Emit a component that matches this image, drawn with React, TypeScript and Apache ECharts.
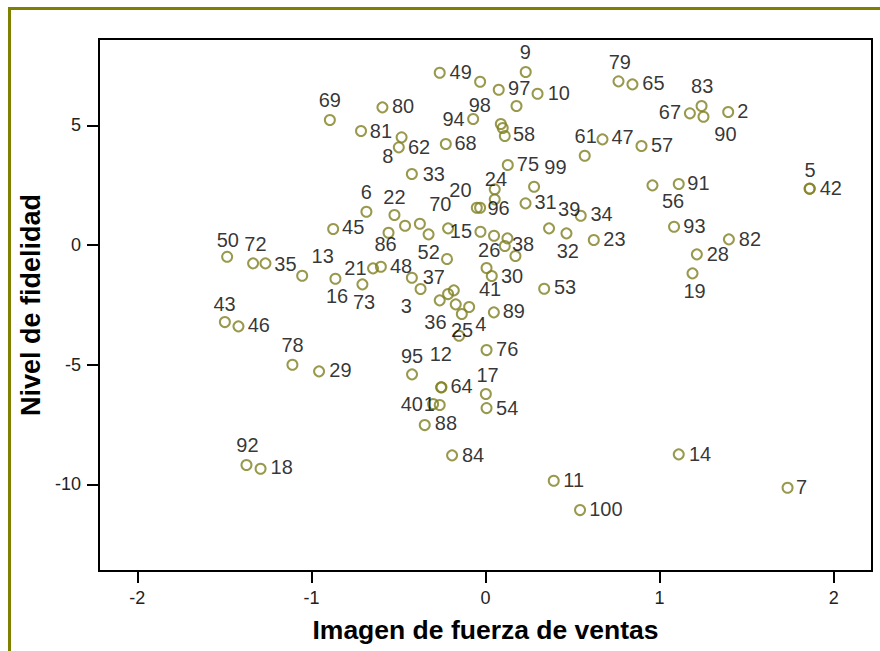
import React, { useEffect, useRef } from 'react';
import * as echarts from 'echarts';

// Case ids shown next to each point ('' = label not drawn)
const pointIds: string[] = [
  '49', '98', '97', '9', '', '94', '', '', '58', '69',
  '80', '81', '8', '62', '68', '33', '75', '99', '24', '',
  '20', '96', '31', '6', '45', '22', '', '', '', '86',
  '70', '15', '26', '', '38', '', '39', '32', '34', '23',
  '10', '79', '65', '83', '67', '90', '2', '61', '47', '57',
  '56', '91', '5', '42', '93', '82', '28', '19', '53', '50',
  '72', '35', '13', '16', '73', '21', '48', '52', '37', '3',
  '36', '', '', '', '25', '4', '', '41', '30', '89',
  '76', '43', '46', '78', '29', '95', '64', '12', '40', '1',
  '17', '54', '88', '84', '11', '100', '14', '7', '92', '18',
];

// Imagen de fuerza de ventas
const xValues: number[] = [
  -0.263, -0.031, 0.076, 0.231, 0.178, -0.071, 0.088, 0.099, 0.111, -0.894,
  -0.592, -0.715, -0.482, -0.498, -0.228, -0.423, 0.128, 0.279, 0.053, 0.053,
  -0.050, -0.031, 0.230, -0.684, -0.875, -0.523, -0.462, -0.377, -0.327, -0.557,
  -0.215, -0.029, 0.049, 0.126, 0.111, 0.172, 0.365, 0.465, 0.547, 0.622,
  0.299, 0.764, 0.844, 1.241, 1.174, 1.252, 1.394, 0.570, 0.672, 0.896,
  0.959, 1.110, 1.861, 1.863, 1.083, 1.398, 1.214, 1.189, 0.337, -1.484,
  -1.335, -1.264, -1.053, -0.862, -0.707, -0.646, -0.601, -0.221, -0.423, -0.373,
  -0.263, -0.215, -0.182, -0.171, -0.136, -0.094, -0.152, 0.006, 0.036, 0.048,
  0.006, -1.497, -1.419, -1.109, -0.956, -0.422, -0.255, -0.253, -0.301, -0.263,
  0.002, 0.006, -0.349, -0.192, 0.392, 0.543, 1.110, 1.735, -1.373, -1.292,
];

// Nivel de fidelidad
const yValues: number[] = [
  7.200, 6.824, 6.490, 7.229, 5.809, 5.265, 5.056, 4.889, 4.555, 5.224,
  5.754, 4.764, 4.501, 4.083, 4.221, 2.967, 3.343, 2.436, 2.328, 1.910,
  1.559, 1.559, 1.743, 1.392, 0.669, 1.254, 0.807, 0.890, 0.447, 0.514,
  0.698, 0.556, 0.389, 0.280, -0.042, -0.460, 0.698, 0.489, 1.224, 0.209,
  6.323, 6.841, 6.715, 5.809, 5.504, 5.361, 5.558, 3.732, 4.417, 4.137,
  2.495, 2.549, 2.353, 2.360, 0.765, 0.238, -0.389, -1.183, -1.826, -0.489,
  -0.765, -0.765, -1.283, -1.408, -1.642, -0.974, -0.907, -0.585, -1.366, -1.839,
  -2.311, -2.048, -1.893, -2.478, -2.883, -2.591, -3.790, -0.961, -1.295, -2.812,
  -4.388, -3.218, -3.397, -5.002, -5.278, -5.403, -5.947, -5.940, -6.644, -6.686,
  -6.226, -6.812, -7.522, -8.788, -9.850, -11.074, -8.746, -10.142, -9.193, -9.348,
];

// Where each id label sits relative to its point (pixels)
const labelOffsets: number[][] = [
  [22, 0.6], [0.7, 24.5], [21.5, -0.5], [0.7, -19], [0, 0], [-18.6, 0.5], [0, 0], [0, 0], [20.3, -1], [1, -18.7],
  [21.6, 0], [20.9, 0.7], [-12.7, 19.4], [21.3, 0.4], [20.7, -0.2], [23, 0.7], [21.2, 0], [22.4, -18.4], [2.2, -9.3], [0, 0],
  [-15.3, -16.4], [19.4, 1.5], [21, 0], [1, -18.4], [21, -1], [1, -16.7], [0, 0], [0, 0], [0, 0], [-2, 12.5],
  [-6.7, -23], [-18.5, 0], [-3.8, 14.8], [0, 0], [19.2, -1], [0, 0], [21.2, -18.3], [2.3, 18.4], [21.8, -0.7], [21.7, -0.5],
  [22.3, 0.6], [2.3, -18.5], [22, -0.1], [1.6, -18.8], [-19, 0], [23, 18.3], [15.5, 0], [2, -18.5], [21.1, -1], [21.6, -0.3],
  [21.6, 16.7], [20.7, 0.3], [1.6, -17.4], [22, 0.1], [21.4, 0], [22, 0.2], [22, 0.4], [3, 18.7], [21.9, -0.4], [1.7, -16.2],
  [3.4, -18.3], [21, 1.4], [21.5, -19], [2.6, 18], [2.6, 19], [-16.6, 0.4], [21.2, 0], [-17.3, -5.7], [23, 0.6], [-13.2, 17.7],
  [-3.3, 23], [0, 0], [0, 0], [0, 0], [1.3, 17.3], [12.7, 18], [0, 0], [4.5, 22], [21.3, 0.7], [21, -0.6],
  [21.6, 0], [0.7, -17], [21.3, -0.1], [1.1, -19], [22.4, -0.3], [1, -17.6], [21.5, -0.6], [0.4, -32.3], [-20.3, 0.5], [-9.5, 0],
  [2.7, -18.3], [21.6, 0.7], [22.2, -0.7], [22, 0.2], [21, -0.2], [26.9, 0], [22.3, 0.7], [15.1, 0], [2, -18.8], [22.1, -0.7],
];

const xTickValues = [-2, -1, 0, 1, 2];
const yTickValues = [-10, -5, 0, 5];

const SYMBOL_SIZE = 10;

export default function App() {
  const ref = useRef<HTMLDivElement>(null);

  useEffect(() => {
    if (!ref.current) return;
    const chart = echarts.init(ref.current, null, { renderer: 'svg' });
    const half = SYMBOL_SIZE / 2;

    const data = xValues.map((x, i) => ({
      value: [x, yValues[i]],
      label: pointIds[i]
        ? {
            show: true,
            formatter: pointIds[i],
            position: [half + labelOffsets[i][0], half + labelOffsets[i][1]],
          }
        : { show: false },
    }));

    const tickStyle = { color: '#000', width: 2 };

    chart.setOption({
      animation: false,
      backgroundColor: '#fff',
      graphic: [
        {
          type: 'rect',
          shape: { x: 9.5, y: 8.5, width: 1200, height: 1200 },
          style: { fill: 'none', stroke: '#808000', lineWidth: 3 },
          silent: true,
        },
      ],
      grid: {
        left: 99,
        right: 8,
        top: 39,
        bottom: 80,
        show: true,
        borderColor: '#000',
        borderWidth: 2,
        backgroundColor: '#fff',
      },
      xAxis: {
        type: 'value',
        min: -2.22,
        max: 2.22,
        name: 'Imagen de fuerza de ventas',
        nameLocation: 'middle',
        nameGap: 45,
        nameTextStyle: {
          fontFamily: 'Liberation Sans',
          fontWeight: 'bold',
          fontSize: 26.5,
          color: '#000',
        },
        axisLine: { show: true, onZero: false, lineStyle: { color: '#000', width: 2 } },
        axisTick: { show: true, inside: false, length: 12, lineStyle: tickStyle, customValues: xTickValues },
        axisLabel: {
          customValues: xTickValues,
          margin: 18,
          fontFamily: 'Liberation Sans',
          fontSize: 18,
          color: '#222',
        },
        splitLine: { show: false },
      },
      yAxis: {
        type: 'value',
        min: -13.62,
        max: 8.61,
        name: 'Nivel de fidelidad',
        nameLocation: 'middle',
        nameGap: 50,
        nameTextStyle: {
          fontFamily: 'Liberation Sans',
          fontWeight: 'bold',
          fontSize: 27,
          color: '#000',
        },
        axisLine: { show: true, onZero: false, lineStyle: { color: '#000', width: 2 } },
        axisTick: { show: true, inside: false, length: 12, lineStyle: tickStyle, customValues: yTickValues },
        axisLabel: {
          customValues: yTickValues,
          margin: 18,
          fontFamily: 'Liberation Sans',
          fontSize: 18,
          color: '#222',
        },
        splitLine: { show: false },
      },
      series: [
        {
          type: 'scatter',
          symbol: 'circle',
          symbolSize: SYMBOL_SIZE,
          itemStyle: {
            color: 'rgba(0,0,0,0)',
            borderColor: '#808020',
            borderWidth: 2,
          },
          label: {
            show: true,
            align: 'center',
            verticalAlign: 'middle',
            fontFamily: 'Liberation Sans',
            fontSize: 20,
            color: '#000',
            textBorderWidth: 0,
          },
          labelLayout: { hideOverlap: false },
          emphasis: { disabled: true },
          data,
        },
      ],
    });

    return () => chart.dispose();
  }, []);

  return (
    <div
      ref={ref}
      style={{ position: 'fixed', left: 0, top: 0, width: 880, height: 651, background: '#fff' }}
    />
  );
}
